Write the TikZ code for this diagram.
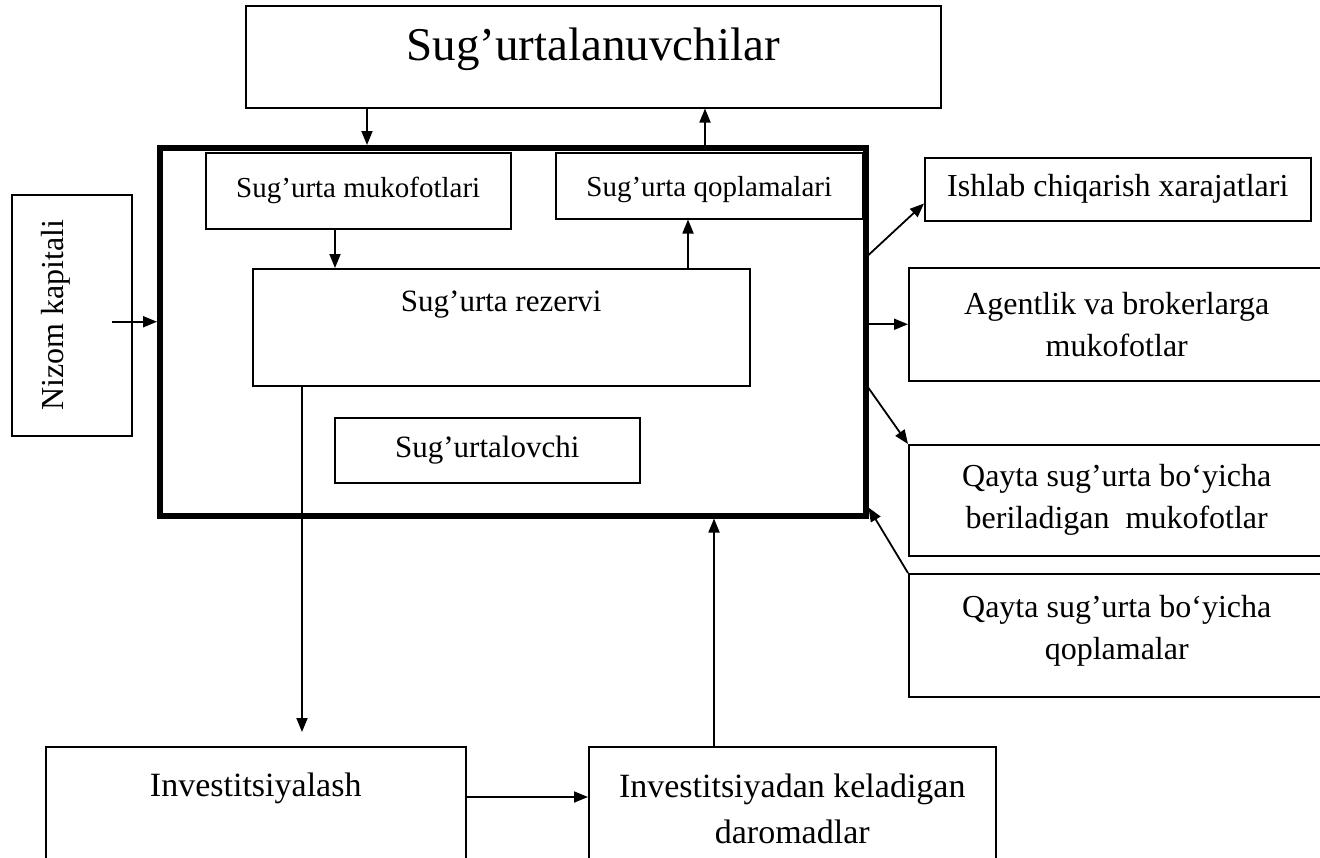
\documentclass[tikz,border=0pt]{standalone}
\usepackage{fontspec}
\setmainfont{Liberation Serif}
\usetikzlibrary{arrows.meta}
\usetikzlibrary{positioning}

\tikzset{
    box/.style={draw, line width=1.5pt, inner sep=0pt, anchor=north west, align=center},
    frame/.style={draw, line width=5.5pt, inner sep=0pt, anchor=north west},
    txt/.style={inner sep=0pt, align=center},
    arr/.style={-{Triangle[length=14pt, width=11pt]}, line width=1.8pt},
    headfont/.style={font=\fontsize{47}{56}\selectfont},
    innerfont/.style={font=\fontsize{29}{35}\selectfont},
    midfont/.style={font=\fontsize{31}{37}\selectfont},
    sidefont/.style={font=\fontsize{32}{42}\selectfont},
    lowfont/.style={font=\fontsize{34}{46}\selectfont},
}

\begin{document}
\begin{tikzpicture}[x=1pt, y=-1pt]
    \useasboundingbox (0,0) rectangle (1320,857);
    \clip (0,0) rectangle (1320,857);

    % boxes
    \node[box, minimum width=695, minimum height=102] (users) at (245,5) {};
    \node[frame, minimum width=706, minimum height=368] (insurer) at (157,145) {};
    \node[box, minimum width=305, minimum height=76] (premiums) at (205,152) {};
    \node[box, minimum width=307, minimum height=66] (claims) at (555,152) {};
    \node[box, minimum width=497, minimum height=117] (reserve) at (252,268) {};
    \node[box, midfont, minimum width=305, minimum height=65] (insurer-t) at (334,417) {Sug’urtalovchi};
    \node[box, minimum width=120, minimum height=241] (capital) at (11,194) {};
    \node[box, sidefont, minimum width=386, minimum height=63] (costs) at (924,157) {Ishlab chiqarish xarajatlari};
    \node[box, sidefont, minimum width=416, minimum height=113] (agents) at (908,267) {Agentlik va brokerlarga\\mukofotlar};
    \node[box, sidefont, minimum width=416, minimum height=111] (reins-prem) at (908,444) {Qayta sug’urta bo‘yicha\\beriladigan\ \ mukofotlar};
    \node[box, minimum width=416, minimum height=123] (reins-claims) at (908,573) {};
    \node[box, minimum width=420, minimum height=140] (invest) at (45,746) {};
    \node[box, minimum width=407, minimum height=140] (income) at (588,746) {};

    % texts near the top of their boxes
    \node[txt, headfont, below=23pt of users.north] (users-t) {Sug’urtalanuvchilar};
    \node[txt, innerfont, below=25pt of premiums.north] (premiums-t) {Sug’urta mukofotlari};
    \node[txt, innerfont, below=24pt of claims.north] (claims-t) {Sug’urta qoplamalari};
    \node[txt, midfont, below=23pt of reserve.north] (reserve-t) {Sug’urta rezervi};
    \node[txt, sidefont, rotate=90] (capital-t) at ([xshift=-16pt]capital.center) {Nizom kapitali};
    \node[txt, sidefont, below=22pt of reins-claims.north] (reins-claims-t) {Qayta sug’urta bo‘yicha\\qoplamalar};
    \node[txt, lowfont, below=27pt of invest.north] (invest-t) {Investitsiyalash};
    \node[txt, lowfont, below=28pt of income.north] (income-t) {Investitsiyadan keladigan\\daromadlar};

    % flows
    \draw[arr] (users.south -| 367,0) -- (insurer.north -| 367,0);
    \draw[arr] (insurer.north -| 705,0) -- (users.south -| 705,0);
    \draw[arr] (premiums.south -| 335,0) -- (reserve.north -| 335,0);
    \draw[arr] (reserve.north -| 688,0) -- (claims.south -| 688,0);
    \draw[arr] ([xshift=-21pt, yshift=-6.5pt]capital.east) coordinate (capital-out) -- (capital-out -| insurer.west);
    \draw[arr] (insurer.east |- 0,255) -- ([yshift=18pt]costs.south west);
    \draw[arr] (insurer.east |- agents.west) -- (agents.west);
    \draw[arr] (insurer.east |- 0,388) -- (reins-prem.north west);
    \draw[arr] (reins-claims.north west) -- ([yshift=11pt]insurer.south east);
    \draw[arr, shorten >=14pt] (reserve.south -| 302,0) -- (invest.north -| 302,0);
    \draw[arr] (invest.east |- 0,797) -- (income.west |- 0,797);
    \draw[arr] (income.north -| 714,0) -- (insurer.south -| 714,0);
\end{tikzpicture}
\end{document}
